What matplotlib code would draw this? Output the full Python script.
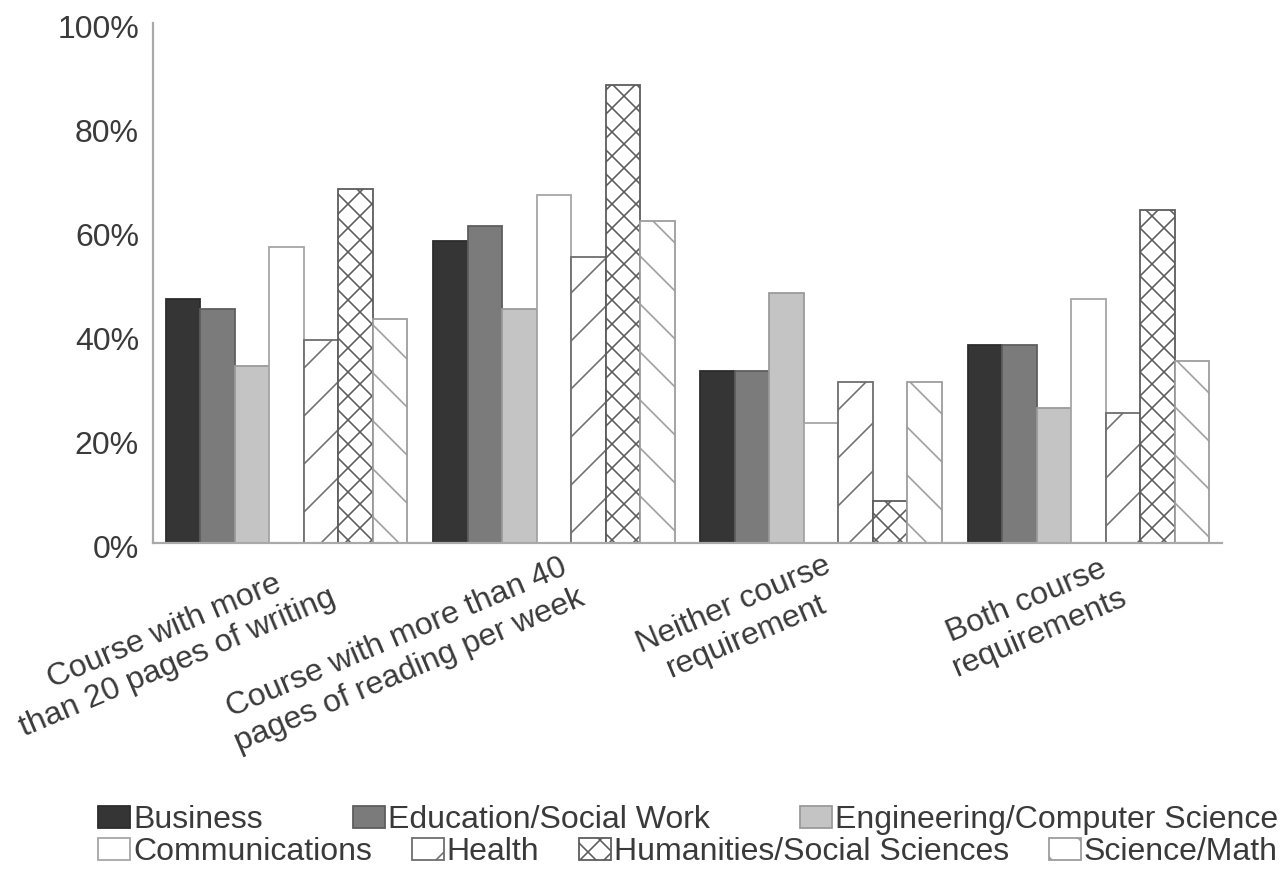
import matplotlib
matplotlib.use("Agg")
import matplotlib.pyplot as plt
from matplotlib.patches import Patch
from matplotlib.transforms import ScaledTranslation
import numpy as np

# Share of students (%) by field of study
categories = [
    "Course with more\nthan 20 pages of writing",
    "Course with more than 40\npages of reading per week",
    "Neither course\nrequirement",
    "Both course\nrequirements",
]
fields = [
    "Business",
    "Education/Social Work",
    "Engineering/Computer Science",
    "Communications",
    "Health",
    "Humanities/Social Sciences",
    "Science/Math",
]

business = [47, 58, 33, 38]
education = [45, 61, 33, 38]
engineering = [34, 45, 48, 26]
communications = [57, 67, 23, 47]
health = [39, 55, 31, 25]
humanities = [68, 88, 8, 64]
science = [43, 62, 31, 35]

y_ticks = [0, 20, 40, 60, 80, 100]
y_tick_labels = ["0%", "20%", "40%", "60%", "80%", "100%"]

series = [business, education, engineering, communications, health, humanities, science]

styles = [
    dict(facecolor="#353535", edgecolor="#2c2c2c", hatch=None),
    dict(facecolor="#7b7b7b", edgecolor="#5e5e5e", hatch=None),
    dict(facecolor="#c4c4c4", edgecolor="#9a9a9a", hatch=None),
    dict(facecolor="white", edgecolor="#a5a5a5", hatch=None),
    dict(facecolor="white", edgecolor="#6e6e6e", hatch="/"),
    dict(facecolor="white", edgecolor="#5c5c5c", hatch="xx"),
    dict(facecolor="white", edgecolor="#9c9c9c", hatch="\\"),
]

plt.rcParams["font.family"] = ["Liberation Sans", "DejaVu Sans"]
plt.rcParams["hatch.linewidth"] = 0.8
text_color = "#3a3a3a"
fs = 16

DPI = 144
fig = plt.figure(figsize=(1288 / DPI, 872 / DPI), dpi=DPI)
ax = fig.add_axes([153 / 1288, 1 - 543 / 872, (1222 - 153) / 1288, (543 - 23) / 872])

x = np.arange(len(categories))
n = len(series)
width = 0.129
for i, (vals, st) in enumerate(zip(series, styles)):
    ax.bar(x + (i - (n - 1) / 2) * width, vals, width=width,
           facecolor=st["facecolor"], edgecolor=st["edgecolor"],
           hatch=st["hatch"], linewidth=0.9, zorder=2)

ax.set_xlim(-0.5, len(categories) - 0.5)
ax.set_ylim(0, 100)

for side in ("top", "right"):
    ax.spines[side].set_visible(False)
for side in ("left", "bottom"):
    ax.spines[side].set_color("#a9a9a9")
    ax.spines[side].set_linewidth(1.1)

ax.set_yticks(y_ticks)
ax.set_yticklabels(y_tick_labels, fontsize=fs, color=text_color)
ax.tick_params(axis="y", length=0, pad=7)
for lbl in ax.get_yticklabels():
    lbl.set_transform(lbl.get_transform() + ScaledTranslation(0, -2 / 72, fig.dpi_scale_trans))

ax.set_xticks(x)
ax.set_xticklabels(categories, fontsize=fs, color=text_color, rotation=23,
                   ha="right", va="top", rotation_mode="anchor",
                   multialignment="center")
ax.tick_params(axis="x", length=0, pad=1)
# nudge each rotated category label (in points)
label_shift = [14, 5, 1, 9]
for lbl, dx in zip(ax.get_xticklabels(), label_shift):
    lbl.set_transform(lbl.get_transform() + ScaledTranslation(dx / 72, -3 / 72, fig.dpi_scale_trans))

handles = [Patch(facecolor=st["facecolor"], edgecolor=st["edgecolor"],
                 hatch=st["hatch"], linewidth=0.9, label=f)
           for st, f in zip(styles, fields)]

legend_kw = dict(loc="center", mode="expand", frameon=False, fontsize=fs,
                 handlelength=1.0, handleheight=0.7, handletextpad=0.1,
                 borderpad=0, borderaxespad=0, columnspacing=0.5,
                 labelcolor=text_color, bbox_transform=fig.transFigure)
x0 = 98 / 1288
w = (1278 - 98) / 1288
fig.legend(handles[:3], fields[:3], ncol=3,
           bbox_to_anchor=(x0, 1 - 820 / 872, w, 0), **legend_kw)
fig.legend(handles[3:], fields[3:], ncol=4,
           bbox_to_anchor=(x0, 1 - 852 / 872, w, 0), **legend_kw)

fig.savefig("out.png", dpi=DPI)
